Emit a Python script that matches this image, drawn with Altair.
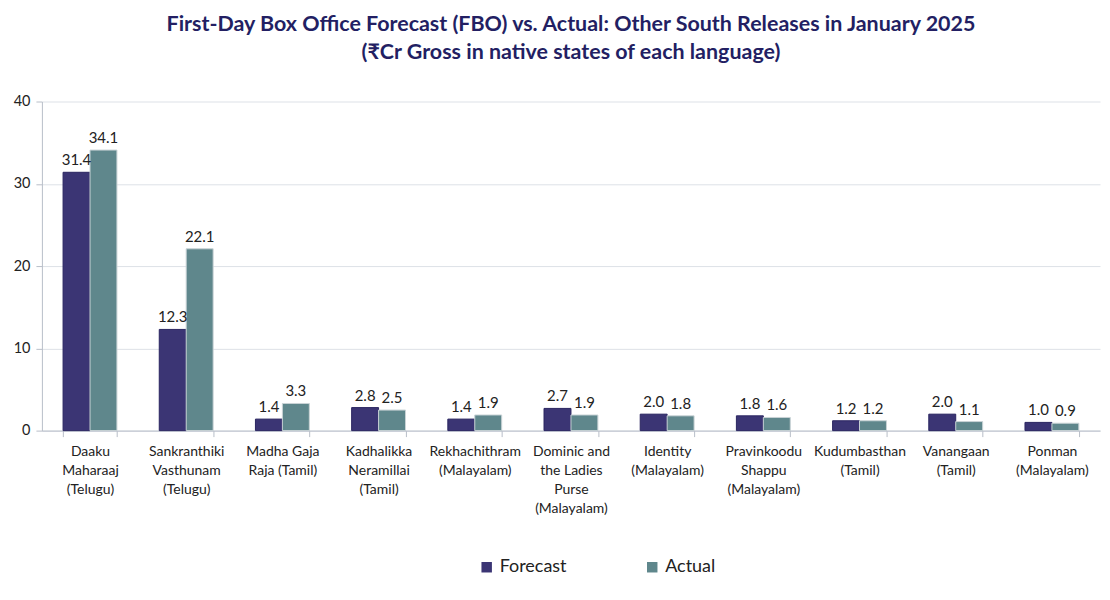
import altair as alt
import pandas as pd

films = [
    "Daaku|Maharaaj|(Telugu)",
    "Sankranthiki|Vasthunam|(Telugu)",
    "Madha Gaja|Raja (Tamil)",
    "Kadhalikka|Neramillai|(Tamil)",
    "Rekhachithram|(Malayalam)",
    "Dominic and|the Ladies|Purse|(Malayalam)",
    "Identity|(Malayalam)",
    "Pravinkoodu|Shappu|(Malayalam)",
    "Kudumbasthan|(Tamil)",
    "Vanangaan|(Tamil)",
    "Ponman|(Malayalam)",
]
forecast = [31.4, 12.3, 1.4, 2.8, 1.4, 2.7, 2.0, 1.8, 1.2, 2.0, 1.0]
actual = [34.1, 22.1, 3.3, 2.5, 1.9, 1.9, 1.8, 1.6, 1.2, 1.1, 0.9]
series = ["Forecast", "Actual"]
colors = ["#3b3574", "#5f878c"]

rows = []
for f, fc, ac in zip(films, forecast, actual):
    rows.append({"film": f, "series": "Forecast", "value": fc})
    rows.append({"film": f, "series": "Actual", "value": ac})
df = pd.DataFrame(rows)
df["label"] = df["value"].map(lambda v: f"{v:.1f}")

FONT = "Lato"

x = alt.X("film:N", sort=films, title=None,
          scale=alt.Scale(paddingInner=0.44, paddingOuter=0.22),
          axis=alt.Axis(labelExpr="split(datum.label, '|')", labelAngle=0,
                        labelFontSize=14, labelColor="#222222", labelFont=FONT,
                        labelPadding=8, tickBand="extent", tickSize=6,
                        domainColor="#b8bec8", tickColor="#b8bec8",
                        labelLineHeight=19, grid=False))
xo = alt.XOffset("series:N", sort=series)

base = alt.Chart(df)

bars = base.mark_bar(strokeWidth=1).encode(
    x=x, xOffset=xo,
    y=alt.Y("value:Q", title=None,
            scale=alt.Scale(domain=[0, 40]),
            axis=alt.Axis(values=[0, 10, 20, 30, 40], labelFontSize=14.5,
                          labelColor="#222222", labelFont=FONT,
                          gridColor="#dde1e7", domainColor="#b8bec8",
                          tickColor="#b8bec8", tickSize=6, labelPadding=6)),
    color=alt.Color("series:N", sort=series,
                    scale=alt.Scale(domain=series, range=colors),
                    legend=alt.Legend(orient="none", legendX=437, legendY=458,
                                      title=None, direction="horizontal",
                                      symbolType="square", symbolSize=110,
                                      labelFontSize=18, labelFont=FONT,
                                      labelColor="#222222", columnPadding=76,
                                      symbolStrokeWidth=0)),
    stroke=alt.Stroke("series:N", sort=series,
                      scale=alt.Scale(domain=series, range=["#2a2560", "#c9d3d6"]),
                      legend=None),
)

labels = base.mark_text(dy=-12, fontSize=15, font=FONT, color="#222222").encode(
    x=x, xOffset=xo,
    y=alt.Y("value:Q"),
    text="label:N",
)

chart = (bars + labels).properties(
    width=1061, height=330,
    title=alt.Title(
        ["First-Day Box Office Forecast (FBO) vs. Actual: Other South Releases in January 2025",
         "(₹Cr Gross in native states of each language)"],
        fontSize=21.5, font=FONT, fontWeight="bold", color="#231f63",
        anchor="middle", lineHeight=28, offset=30),
    padding={"top": 5, "left": 5, "right": 2, "bottom": 2},
).configure_view(stroke=None)

chart.save("out.html", embed_options={"renderer": "svg", "actions": False})
